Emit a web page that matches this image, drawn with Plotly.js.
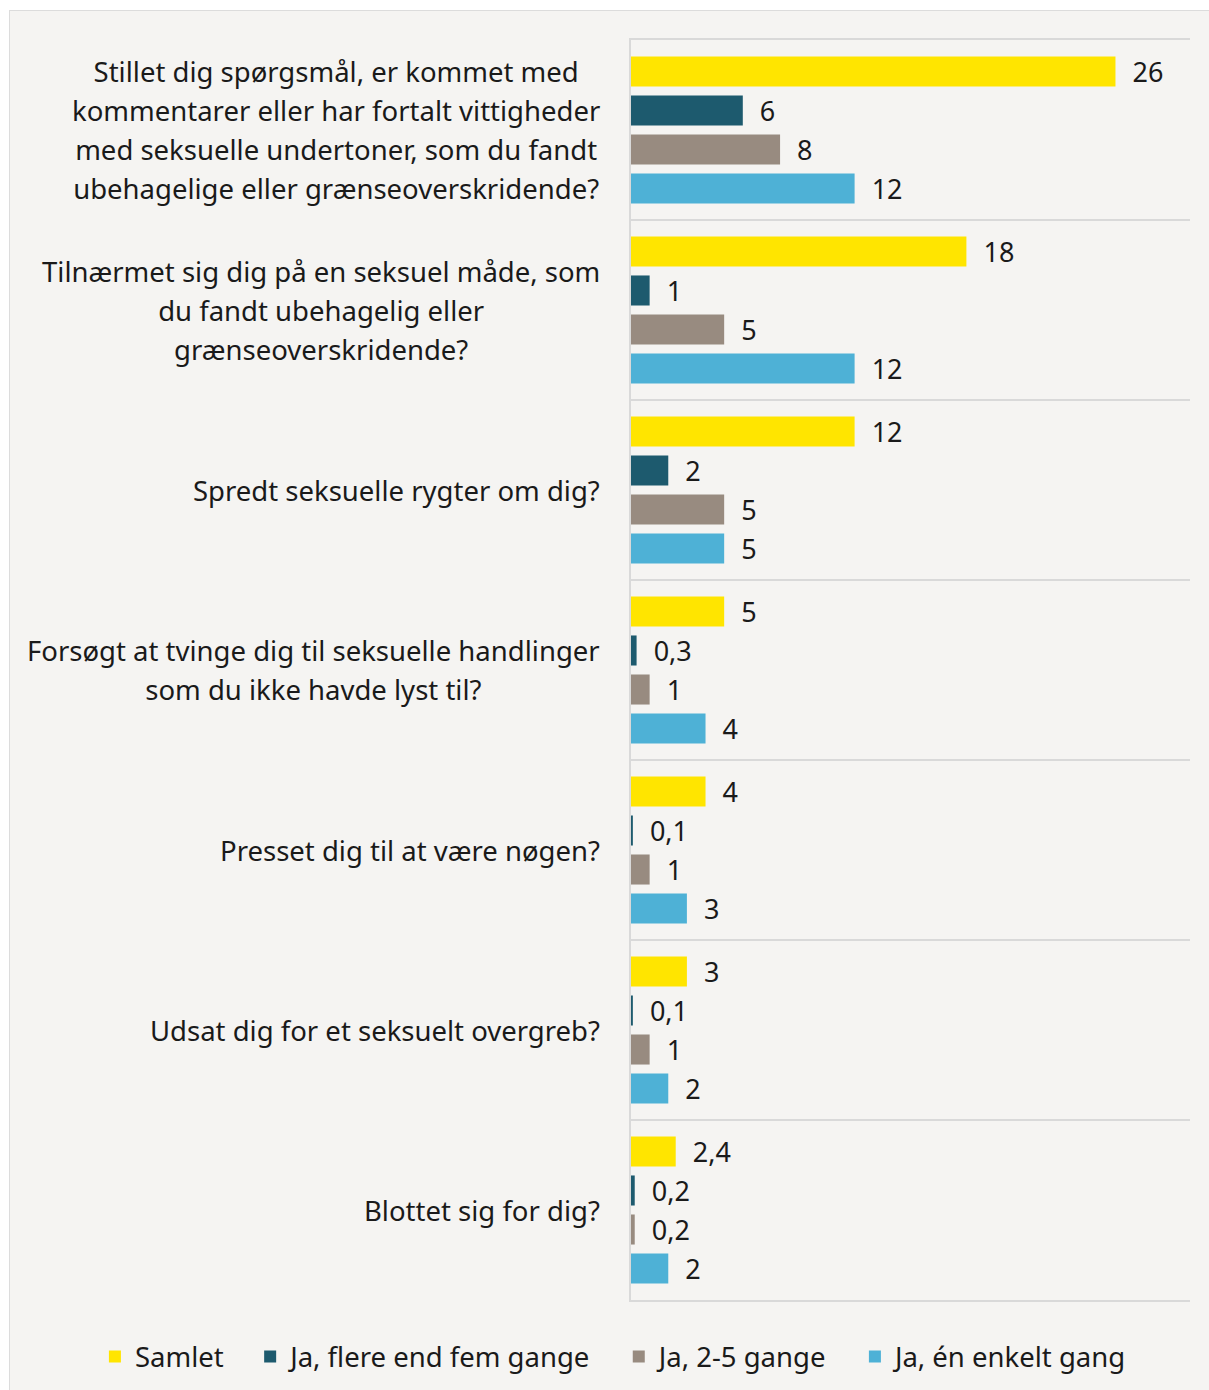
<!DOCTYPE html>
<html>
<head>
<meta charset="utf-8">
<script src="https://cdn.plot.ly/plotly-3.0.1.min.js"></script>
<style>
  html, body { margin: 0; padding: 0; background: #ffffff; }
  #frame { position: absolute; left: 9px; top: 10px; width: 1200px; height: 1380px;
           border-left: 1px solid #dcdcdc; border-top: 1px solid #dcdcdc; background: #f5f4f2; }
  #chart { width: 1199px; height: 1379px; }
</style>
</head>
<body>
<div id="frame"><div id="chart"></div></div>
<script>
// Categories (tick labels), top to bottom
const categories = [
  "Stillet dig spørgsmål, er kommet med<br>kommentarer eller har fortalt vittigheder<br>med seksuelle undertoner, som du fandt<br>ubehagelige eller grænseoverskridende?",
  "Tilnærmet sig dig på en seksuel måde, som<br>du fandt ubehagelig eller<br>grænseoverskridende?",
  "Spredt seksuelle rygter om dig?",
  "Forsøgt at tvinge dig til seksuelle handlinger<br>som du ikke havde lyst til?",
  "Presset dig til at være nøgen?",
  "Udsat dig for et seksuelt overgreb?",
  "Blottet sig for dig?"
];

// Series
const seriesNames = ["Samlet", "Ja, flere end fem gange", "Ja, 2-5 gange", "Ja, én enkelt gang"];
const samlet      = [26, 18, 12, 5, 4, 3, 2.4];
const flereEndFem = [6, 1, 2, 0.3, 0.1, 0.1, 0.2];
const toTilFem    = [8, 5, 5, 1, 1, 1, 0.2];
const enkeltGang  = [12, 12, 5, 4, 3, 2, 2];

const colors = ["#ffe500", "#1d5a6e", "#988b80", "#4eb1d6"];
const seriesValues = [samlet, flereEndFem, toTilFem, enkeltGang];

const FONT = "'Noto Sans', 'Open Sans', sans-serif";
const TXT = "#1a1a1a";

const fmt = v => "\u00a0\u00a0" + String(v).replace(".", ",");
const pad = "\u00a0\u00a0\u00a0";

const traces = seriesValues.map((vals, i) => ({
  type: "bar",
  orientation: "h",
  name: seriesNames[i] + (i < seriesNames.length - 1 ? pad : ""),
  x: vals,
  y: categories,
  marker: { color: colors[i], line: { width: 0 } },
  text: vals.map(fmt),
  textposition: "outside",
  constraintext: "none",
  cliponaxis: false,
  textfont: { family: FONT, size: 27, color: TXT },
  hoverinfo: "x+name"
}));

const annotations = categories.map(c => ({
  xref: "paper", yref: "y",
  x: 0, y: c,
  xanchor: "right", yanchor: "middle",
  xshift: -29,
  align: "center",
  showarrow: false,
  text: c.split("<br>").map(l => '<span style="font-size:27.5px">' + l + '</span>').join("<br>"),
  font: { family: FONT, size: 30, color: TXT }
}));

const layout = {
  width: 1199, height: 1379,
  paper_bgcolor: "#f5f4f2",
  plot_bgcolor: "#f5f4f2",
  margin: { l: 621, r: 19, t: 29, b: 90, autoexpand: false },
  barmode: "group",
  bargap: 0.133,
  bargroupgap: 0.23,
  separators: ",.",
  font: { family: FONT, size: 26, color: TXT },
  xaxis: {
    range: [0, 30],
    showgrid: false, zeroline: false, showticklabels: false, ticks: "",
    showline: true, mirror: true, linecolor: "#d9d9d9", linewidth: 2
  },
  yaxis: {
    type: "category",
    range: [6.5, -0.5],
    tickson: "boundaries",
    showgrid: true, gridcolor: "#d9d9d9", gridwidth: 2,
    showticklabels: false, ticks: "",
    showline: true, linecolor: "#d9d9d9", linewidth: 2,
    zeroline: false
  },
  showlegend: true,
  legend: {
    orientation: "h",
    xref: "paper", yref: "paper",
    x: -0.959, xanchor: "left",
    y: -0.045, yanchor: "middle",
    font: { family: FONT, size: 27.5, color: TXT },
    traceorder: "normal",
    bgcolor: "rgba(0,0,0,0)"
  },
  annotations: annotations
};

Plotly.newPlot("chart", traces, layout, { displayModeBar: false, staticPlot: true });
</script>
</body>
</html>
